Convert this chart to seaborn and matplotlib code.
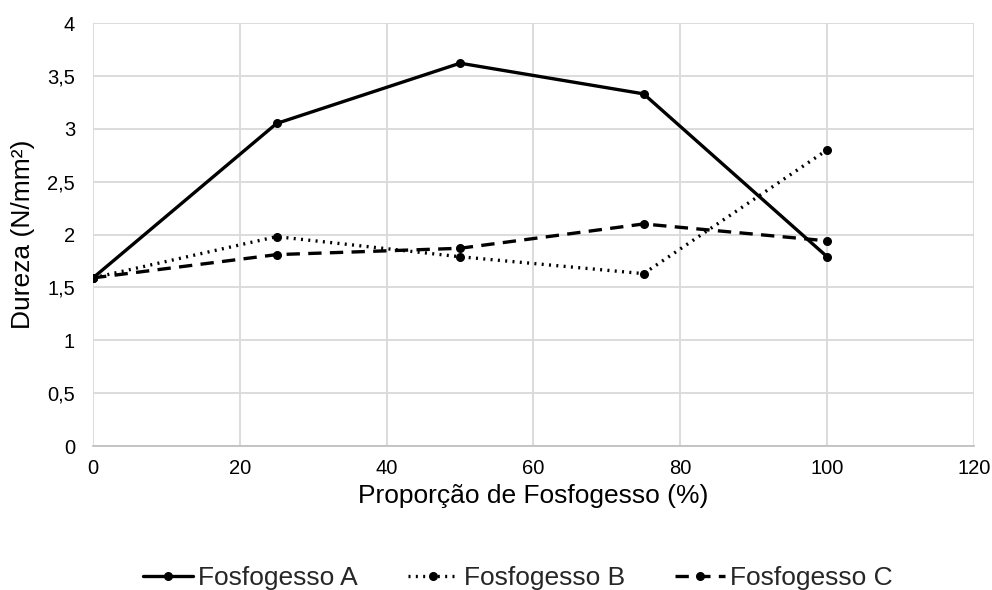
import matplotlib
matplotlib.use("Agg")
import matplotlib.pyplot as plt
import seaborn as sns
import pandas as pd
from matplotlib.ticker import FuncFormatter, MultipleLocator

proporcao = [0, 25, 50, 75, 100]
fosfo_a = [1.59, 3.05, 3.62, 3.33, 1.79]
fosfo_b = [1.59, 1.98, 1.79, 1.63, 2.80]
fosfo_c = [1.59, 1.81, 1.87, 2.10, 1.94]
series_names = ["Fosfogesso A", "Fosfogesso B", "Fosfogesso C"]

df = pd.DataFrame({
    "x": proporcao * 3,
    "y": fosfo_a + fosfo_b + fosfo_c,
    "serie": sum([[n] * len(proporcao) for n in series_names], []),
})

sns.set_theme(style="white")
plt.rcParams["font.family"] = ["Liberation Sans", "DejaVu Sans"]

fig = plt.figure(figsize=(9.92, 5.9), dpi=100)
ax = fig.add_axes([0.0938, 0.244, 0.888, 0.717])

dashes = {"Fosfogesso A": "", "Fosfogesso B": (0.6, 1.6), "Fosfogesso C": (4, 2.5)}
sns.lineplot(data=df, x="x", y="y", style="serie", dashes=dashes,
             markers={n: "o" for n in series_names}, color="black",
             linewidth=2.4, markersize=6.5, markeredgewidth=0, ax=ax, legend=True)

handles, labels = ax.get_legend_handles_labels()
if ax.get_legend() is not None:
    ax.get_legend().remove()

ax.set_xlim(0, 120)
ax.set_ylim(0, 4)
ax.xaxis.set_major_locator(MultipleLocator(20))
ax.yaxis.set_major_locator(MultipleLocator(0.5))
fmt = FuncFormatter(lambda v, p: (f"{v:g}").replace(".", ","))
ax.yaxis.set_major_formatter(fmt)
ax.grid(True, color="#d9d9d9", linewidth=1.3)
for s in ["top", "right", "left"]:
    ax.spines[s].set_visible(False)
ax.spines["bottom"].set_color("#bfbfbf")
ax.tick_params(axis="both", labelsize=14.5, colors="black", length=0)
ax.tick_params(axis="x", pad=9)
ax.tick_params(axis="y", pad=13)
ax.set_xlabel("Proporção de Fosfogesso (%)", fontsize=19, color="black", labelpad=5)
ax.set_ylabel("Dureza (N/mm²)", fontsize=19, color="black", labelpad=9)

fig.legend(handles, labels, loc="center", bbox_to_anchor=(0.522, 0.02),
           ncol=3, frameon=False, fontsize=19, handlelength=1.9,
           columnspacing=1.9, handletextpad=0.2, borderpad=0)

fig.savefig("out.png", dpi=100)
